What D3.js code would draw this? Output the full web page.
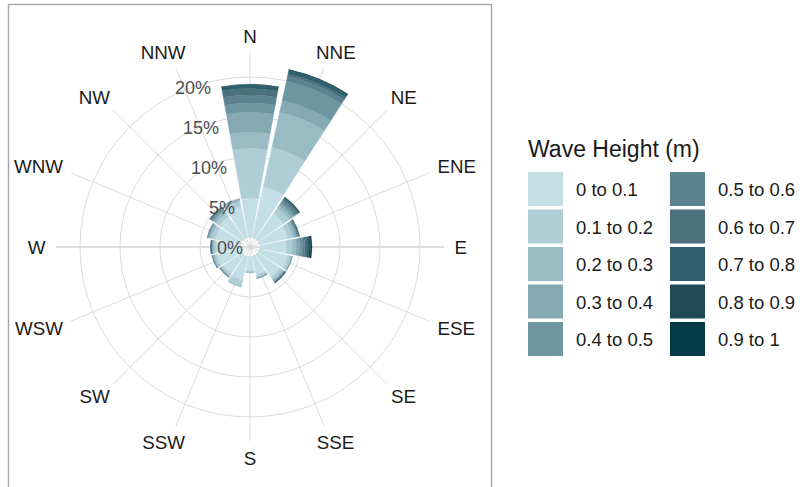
<!DOCTYPE html>
<html>
<head>
<meta charset="utf-8">
<script src="https://cdn.jsdelivr.net/npm/d3@7"></script>
<style>
  body { margin: 0; background: #fff; }
  svg { font-family: "Liberation Sans", Arial, sans-serif; }
</style>
</head>
<body>
<svg id="chart" width="802" height="487"></svg>
<script>
// directions, clockwise from north
var directions = ['N', 'NNE', 'NE', 'ENE', 'E', 'ESE', 'SE', 'SSE', 'S', 'SSW', 'SW', 'WSW', 'W', 'WNW', 'NW', 'NNW'];

// wave height bins
var bins = ['0 to 0.1', '0.1 to 0.2', '0.2 to 0.3', '0.3 to 0.4', '0.4 to 0.5',
            '0.5 to 0.6', '0.6 to 0.7', '0.7 to 0.8', '0.8 to 0.9', '0.9 to 1'];

var binColors = ['#c4dee6', '#afcdd4', '#99bbc4', '#84a9b3', '#6e96a0',
                 '#5c828f', '#4a717c', '#2f5f6d', '#1f4a57', '#053a49'];

// percent of records per bin, one value per direction (same order as directions)
var h00 = [4.9, 6.5, 3.9, 3.6, 3.3, 3.6, 3.3, 2.3, 1.7, 3.0, 2.8, 3.0, 3.0, 3.2, 3.4, 4.0];
var h01 = [6.2, 5.0, 0.8, 0.6, 0.75, 0.4, 0.4, 0.3, 0.2, 0.8, 0.3, 0.3, 0.3, 0.5, 0.5, 0.6];
var h02 = [2.0, 4.5, 0.4, 0.3, 0.5, 0.1, 0.15, 0.1, 0.1, 0.1, 0.1, 0.15, 0.1, 0.25, 0.3, 0.2];
var h03 = [2.5, 1.5, 0.3, 0.2, 0.4, 0.05, 0.1, 0.05, 0, 0, 0.1, 0.1, 0.1, 0.15, 0.2, 0.05];
var h04 = [1.15, 2.5, 0.3, 0.15, 0.35, 0.05, 0.1, 0.05, 0, 0, 0.05, 0.05, 0.05, 0.1, 0.2, 0.05];
var h05 = [1.0, 0.6, 0.25, 0.1, 0.3, 0, 0.05, 0, 0, 0, 0.05, 0.05, 0.05, 0.05, 0.15, 0];
var h06 = [0.8, 0.3, 0.2, 0.1, 0.3, 0, 0.05, 0, 0, 0, 0, 0, 0.05, 0, 0.1, 0];
var h07 = [0.5, 0.4, 0.15, 0.05, 0.25, 0, 0.05, 0, 0, 0, 0, 0, 0.05, 0, 0.05, 0];
var h08 = [0.05, 0.1, 0.05, 0, 0.2, 0, 0.02, 0, 0, 0, 0, 0, 0, 0, 0, 0];
var h09 = [0, 0.05, 0, 0, 0.15, 0, 0, 0, 0, 0, 0, 0, 0, 0, 0, 0];

var radialTicks = [0, 5, 10, 15, 20];

var series = [h00, h01, h02, h03, h04, h05, h06, h07, h08, h09];

var svg = d3.select('#chart');
var cx = 250, cy = 247;

// panel border
svg.append('rect')
  .attr('x', 8.5).attr('y', 4.5)
  .attr('width', 483).attr('height', 490)
  .attr('fill', 'none')
  .attr('stroke', '#a6a6a6')
  .attr('stroke-width', 1.4);

var g = svg.append('g').attr('transform', 'translate(' + cx + ',' + cy + ')');

// radius scale: 0% sits on a small hole in the middle
var r = d3.scaleLinear().domain([0, 20]).range([10, 170]);

var step = 2 * Math.PI / directions.length;

// circles
g.selectAll('.ring')
  .data(radialTicks)
  .enter()
  .append('circle')
  .attr('class', 'ring')
  .attr('r', function(d) { return r(d); })
  .attr('fill', 'none')
  .attr('stroke', '#d2d2d2')
  .attr('stroke-width', 0.8);

// spokes
var spokeLen = 194;
g.selectAll('.spoke')
  .data(directions)
  .enter()
  .append('line')
  .attr('class', 'spoke')
  .attr('x1', 0).attr('y1', 0)
  .attr('x2', function(d, i) { return spokeLen * Math.sin(i * step); })
  .attr('y2', function(d, i) { return -spokeLen * Math.cos(i * step); })
  .attr('stroke', function(d) { return (d == 'E' || d == 'W') ? '#dedede' : '#d2d2d2'; })
  .attr('stroke-width', function(d) { return (d == 'E' || d == 'W') ? 1.8 : 0.8; });

// stack the bins per direction
var rows = directions.map(function(d, i) {
  var row = { dir: d };
  bins.forEach(function(b, j) { row[b] = series[j][i]; });
  return row;
});
var stacked = d3.stack().keys(bins)(rows);

var arc = d3.arc()
  .innerRadius(function(d) { return r(d[0]); })
  .outerRadius(function(d) { return r(d[1]); })
  .startAngle(function(d) { return (d.idx - 0.45) * step; })
  .endAngle(function(d) { return (d.idx + 0.45) * step; });

stacked.forEach(function(layer, j) {
  var pieces = layer.map(function(p, i) {
    var q = [p[0], p[1]];
    q.idx = i;
    return q;
  }).filter(function(q) { return q[1] > q[0]; });

  g.append('g')
    .selectAll('path')
    .data(pieces)
    .enter()
    .append('path')
    .attr('d', arc)
    .attr('fill', binColors[j])
    .attr('stroke', binColors[j])
    .attr('stroke-width', 0.3);
});

// percent labels
g.selectAll('.rlab')
  .data(radialTicks)
  .enter()
  .append('text')
  .attr('class', 'rlab')
  .attr('x', function(d) { return -7 - 0.2 * (r(d) - r(0)); })
  .attr('y', function(d) { return -(r(d) - r(0)) + 6.5; })
  .attr('text-anchor', 'end')
  .attr('font-size', '18px')
  .attr('fill', '#4d4d4d')
  .text(function(d) { return d + '%'; });

// direction labels, justified away from the centre
var labR = 204.5;
var capHalf = 6.8;
g.selectAll('.dlab')
  .data(directions)
  .enter()
  .append('text')
  .attr('class', 'dlab')
  .attr('text-anchor', 'middle')
  .attr('font-size', '18.8px')
  .attr('fill', '#1a1a1a')
  .text(function(d) { return d; })
  .each(function(d, i) {
    var a = i * step;
    var halfW = this.getComputedTextLength() / 2;
    d3.select(this)
      .attr('x', (labR + halfW) * Math.sin(a))
      .attr('y', -(labR + capHalf) * Math.cos(a) + capHalf);
  });

// legend
var legend = svg.append('g').attr('transform', 'translate(528,0)');
legend.append('text')
  .attr('x', 0).attr('y', 157)
  .attr('font-size', '23px')
  .attr('fill', '#1a1a1a')
  .text('Wave Height (m)');

var keys = legend.selectAll('.key')
  .data(bins)
  .enter()
  .append('g')
  .attr('class', 'key')
  .attr('transform', function(d, i) {
    var col = Math.floor(i / 5), row = i % 5;
    return 'translate(' + (col * 142) + ',' + (172 + row * 37.5) + ')';
  });

keys.append('rect')
  .attr('width', 35).attr('height', 34)
  .attr('fill', function(d, i) { return binColors[i]; });

keys.append('text')
  .attr('x', 48).attr('y', 24)
  .attr('font-size', '18.5px')
  .attr('fill', '#1a1a1a')
  .text(function(d) { return d; });
</script>
</body>
</html>
